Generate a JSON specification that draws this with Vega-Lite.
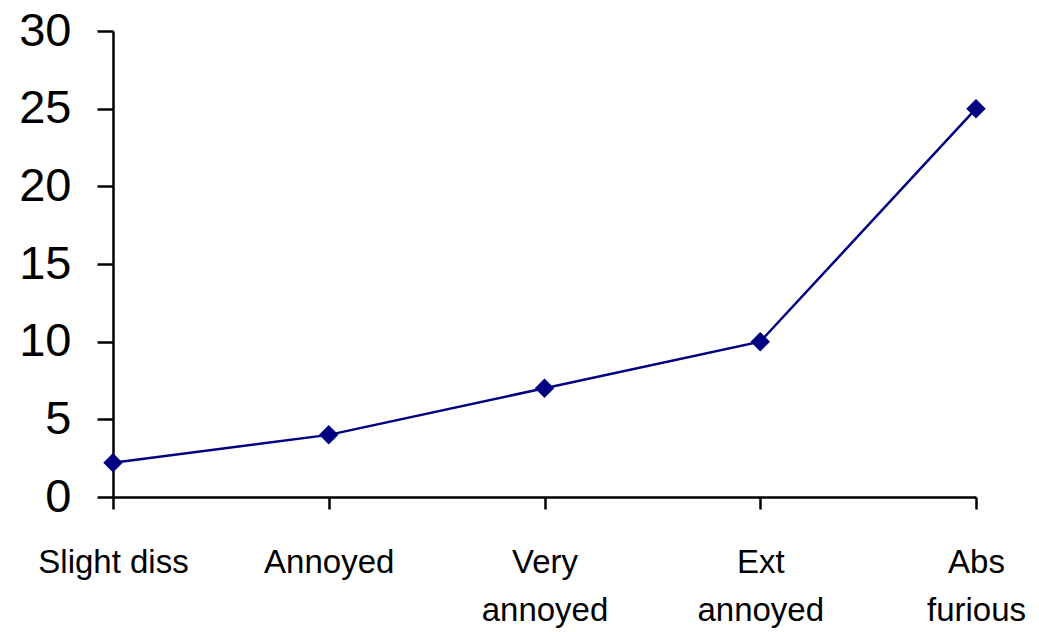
{
  "$schema": "https://vega.github.io/schema/vega-lite/v6.json",
  "width": 863,
  "height": 466,
  "autosize": {"type": "none"},
  "padding": {"left": 113, "top": 31, "right": 63, "bottom": 135},
  "background": "white",
  "config": {"view": {"stroke": null}},
  "data": {
    "values": [
      {"level": "Slight diss", "value": 2.2},
      {"level": "Annoyed", "value": 4},
      {"level": "Very annoyed", "value": 7},
      {"level": "Ext annoyed", "value": 10},
      {"level": "Abs furious", "value": 25}
    ]
  },
  "encoding": {
    "x": {
      "field": "level",
      "type": "ordinal",
      "sort": null,
      "scale": {"type": "point", "padding": 0},
      "axis": {
        "title": null,
        "labelAngle": 0,
        "labelFont": "Liberation Sans",
        "labelFontSize": 33,
        "labelColor": "black",
        "labelPadding": 37,
        "labelLineHeight": 48,
        "labelOverlap": false,
        "labelFlush": false,
        "labelExpr": "datum.value == 'Slight diss' ? datum.value : split(datum.value, ' ')",
        "domainColor": "black",
        "domainWidth": 2.5,
        "tickColor": "black",
        "tickWidth": 2.5,
        "tickSize": 12
      }
    },
    "y": {
      "field": "value",
      "type": "quantitative",
      "scale": {"domain": [0, 30], "nice": false},
      "axis": {
        "title": null,
        "values": [0, 5, 10, 15, 20, 25, 30],
        "grid": false,
        "labelFont": "Liberation Sans",
        "labelFontSize": 47,
        "labelColor": "black",
        "labelPadding": 26,
        "domainColor": "black",
        "domainWidth": 2.5,
        "tickColor": "black",
        "tickWidth": 2.5,
        "tickSize": 16
      }
    }
  },
  "layer": [
    {"mark": {"type": "line", "color": "#000080", "strokeWidth": 2.5}},
    {"mark": {"type": "point", "shape": "diamond", "filled": true, "color": "#000080", "size": 380, "opacity": 1}}
  ]
}
